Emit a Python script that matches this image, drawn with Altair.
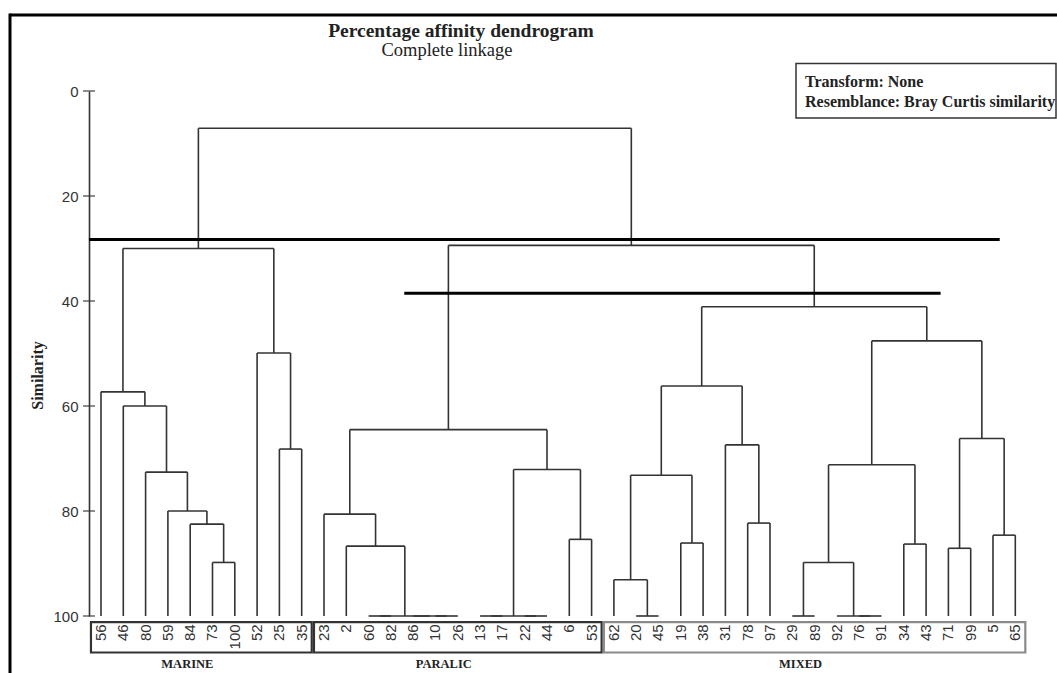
import altair as alt
import pandas as pd

# ---------------- data ----------------
leaves = ["56", "46", "80", "59", "84", "73", "100", "52", "25", "35",
          "23", "2", "60", "82", "86", "10", "26", "13", "17", "22", "44", "6", "53",
          "62", "20", "45", "19", "38", "31", "78", "97", "29", "89", "92", "76", "91",
          "34", "43", "71", "99", "5", "65"]

# merges (like a linkage table): "Mk" refers to the k-th merge
merge_left = ["73", "84", "59", "80", "46", "56", "25", "52", "M5",
              "60", "10", "86", "M9", "2", "23", "13", "22", "M15", "6", "M17", "M14",
              "20", "62", "19", "M22", "78", "31", "M24", "29", "76", "92", "M28", "34",
              "M31", "71", "5", "M34", "M33", "M27", "M20", "M8"]
merge_right = ["100", "M0", "M1", "M2", "M3", "M4", "35", "M6", "M7",
               "82", "26", "M10", "M11", "M12", "M13", "17", "44", "M16", "53", "M18", "M19",
               "45", "M21", "38", "M23", "97", "M25", "M26", "89", "91", "M29", "M30", "43",
               "M32", "99", "65", "M35", "M36", "M37", "M38", "M39"]
merge_height = [89.8, 82.5, 80.0, 72.6, 60.0, 57.3, 68.2, 49.9, 30.0,
                100, 100, 100, 100, 86.7, 80.6, 100, 100, 100, 85.4, 72.1, 64.5,
                100, 93.1, 86.1, 73.2, 82.3, 67.4, 56.2, 100, 100, 100, 89.8, 86.3,
                71.2, 87.1, 84.6, 66.2, 47.6, 41.1, 29.4, 7.1]

group_names = ["MARINE", "PARALIC", "MIXED"]
group_first = ["56", "23", "62"]
group_last = ["35", "53", "65"]

cut_height = [28.3, 38.5]
cut_from = [-0.54, 13.6]
cut_to = [40.3, 37.65]

y_ticks = [0, 20, 40, 60, 80, 100]

title_text = "Percentage affinity dendrogram"
subtitle_text = "Complete linkage"
info_lines = ["Transform: None", "Resemblance: Bray Curtis similarity"]
y_title = "Similarity"

# ---------------- build segments ----------------
pos = {lab: float(i) for i, lab in enumerate(leaves)}
hgt = {lab: 100.0 for lab in leaves}
segs = []
for k, (a, b, h) in enumerate(zip(merge_left, merge_right, merge_height)):
    xa, xb = pos[a], pos[b]
    segs.append(dict(x=xa, x2=xa, y=hgt[a], y2=h))
    segs.append(dict(x=xb, x2=xb, y=hgt[b], y2=h))
    segs.append(dict(x=xa, x2=xb, y=h, y2=h))
    pos[f"M{k}"] = (xa + xb) / 2
    hgt[f"M{k}"] = h
seg_df = pd.DataFrame(segs)

leaf_df = pd.DataFrame({"leaf": leaves, "i": list(range(len(leaves)))})
grp_df = pd.DataFrame({
    "name": group_names,
    "x0": [pos[f] - 0.45 for f in group_first],
    "x1": [pos[l] + 0.45 for l in group_last],
})
grp_df["xc"] = (grp_df["x0"] + grp_df["x1"]) / 2
cut_df = pd.DataFrame({"y": cut_height, "x": cut_from, "x2": cut_to})
tick_df = pd.DataFrame({"v": y_ticks})

SERIF = "Liberation Serif"
SANS = "Liberation Sans"
LINE = "#333333"

XMIN, XMAX = -0.538, 42.87
xs = alt.Scale(domain=[XMIN, XMAX], nice=False, zero=False)
ys = alt.Scale(domain=[0, 100], reverse=True, nice=False, zero=False)

tree = alt.Chart(seg_df).mark_rule(color=LINE, strokeWidth=1.6).encode(
    x=alt.X("x:Q", scale=xs, axis=None),
    x2="x2:Q",
    y=alt.Y("y:Q", scale=ys, axis=alt.Axis(
        values=y_ticks, ticks=False, grid=False, labelPadding=11,
        domainColor=LINE, domainWidth=1.6,
        labelFont=SANS, labelFontSize=15, labelColor=LINE,
        title=y_title, titleFont=SERIF, titleFontSize=16, titleFontWeight="bold",
        titleColor="#222222", titleAngle=270, titleX=-52, titleY=284,
        titleBaseline="middle", titleAlign="center")),
    y2="y2:Q",
)

ticks = alt.Chart(tick_df).mark_tick(orient="horizontal", size=12, thickness=1.6,
                                     color=LINE).encode(
    x=alt.X(datum=XMIN), y=alt.Y("v:Q"))

cuts = alt.Chart(cut_df).mark_rule(color="#000000", strokeWidth=3).encode(
    x=alt.X("x:Q"), x2="x2:Q", y=alt.Y("y:Q"))

leaf_text = alt.Chart(leaf_df).mark_text(
    angle=270, align="right", baseline="middle", font=SANS, fontSize=15,
    color=LINE).encode(x=alt.X("i:Q"), y=alt.Y(datum=101.6), text="leaf:N")

boxes = alt.Chart(grp_df).mark_rect(fillOpacity=0, strokeWidth=2.2).encode(
    x=alt.X("x0:Q"), x2="x1:Q",
    y=alt.Y(datum=101.15), y2=alt.datum(106.95),
    stroke=alt.Stroke("name:N", scale=alt.Scale(domain=group_names,
                                                 range=[LINE, LINE, "#8a8a8a"]),
                      legend=None))

grp_text = alt.Chart(grp_df).mark_text(
    font=SERIF, fontSize=12.5, fontWeight="bold", color="#222222",
    baseline="middle", dx=-14).encode(
    x=alt.X("xc:Q"), y=alt.Y(datum=109.2), text="name:N")

one = pd.DataFrame({"t": [0]})
title = alt.Chart(pd.DataFrame({"t": [title_text]})).mark_text(
    font=SERIF, fontSize=19.5, fontWeight="bold", color="#222222",
    baseline="alphabetic").encode(x=alt.value(372), y=alt.value(-54), text="t:N")
subtitle = alt.Chart(pd.DataFrame({"t": [subtitle_text]})).mark_text(
    font=SERIF, fontSize=18.5, color="#222222", baseline="alphabetic").encode(
    x=alt.value(358), y=alt.value(-35), text="t:N")

info_box = alt.Chart(one).mark_rect(fillOpacity=0, stroke=LINE, strokeWidth=1.5).encode(
    x=alt.value(707), x2=alt.value(967), y=alt.value(-27.5), y2=alt.value(27))
info_text1 = alt.Chart(pd.DataFrame({"t": [info_lines[0]]})).mark_text(
    font=SERIF, fontSize=16, fontWeight="bold", color="#222222", align="left",
    baseline="middle").encode(x=alt.value(716), y=alt.value(-9.5), text="t:N")
info_text2 = alt.Chart(pd.DataFrame({"t": [info_lines[1]]})).mark_text(
    font=SERIF, fontSize=16, fontWeight="bold", color="#222222", align="left",
    baseline="middle").encode(x=alt.value(716), y=alt.value(10.5), text="t:N")

frame_top = alt.Chart(one).mark_rule(color="#000000", strokeWidth=3).encode(
    x=alt.value(-79), x2=alt.value(970), y=alt.value(-76))
frame_left = alt.Chart(one).mark_rule(color="#000000", strokeWidth=3).encode(
    x=alt.value(-79), y=alt.value(-77.5), y2=alt.value(590))

chart = alt.layer(
    tree, frame_top, frame_left, ticks, cuts, boxes, leaf_text, grp_text,
    title, subtitle, info_box, info_text1, info_text2
).properties(
    width=968, height=525,
    autosize=alt.AutoSizeParams(type="none"),
    padding={"left": 89, "top": 91, "right": 0, "bottom": 57},
).configure(background="white", view=alt.ViewConfig(stroke=None))

chart.save("out.html", embed_options={"renderer": "svg", "actions": False})
